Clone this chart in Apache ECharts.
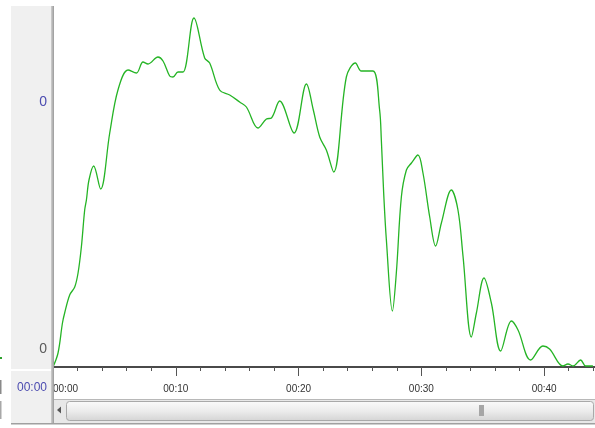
<!DOCTYPE html>
<html>
<head>
<meta charset="utf-8">
<script src="https://cdn.jsdelivr.net/npm/echarts@6/dist/echarts.min.js"></script>
<style>
html,body{margin:0;padding:0;background:#fff;}
#chart{width:595px;height:428px;}
</style>
</head>
<body>
<div id="chart"></div>
<script>
// time in seconds
var timeSec = [0,0.41,0.77,0.95,1.36,1.77,2.04,2.31,2.58,2.72,2.93,3.31,3.88,4.62,5.29,6.11,6.79,7.33,7.74,8.55,8.96,9.50,9.77,10.18,10.59,11.48,12.35,12.76,13.57,14.39,15.2,15.75,16.69,17.38,17.79,18.46,19.63,20.64,21.2,21.72,22.26,22.86,23.89,24.63,25.11,26.06,26.6,26.74,26.93,27.15,27.64,27.96,28.37,28.78,29.19,29.72,30.13,30.68,31.16,31.63,32.44,32.98,33.39,34.07,34.48,35.1,35.7,36.46,37.33,37.87,38.9,39.9,40.44,41.53,41.94,42.35,42.97,43.38,43.97];
// signal level
var level = [0,14,44,54,72,80,94,120,157,167,187,201,178,234,277,297,294,305,303,310,306,291,290,295,295,349,309,304,277,272,265,260,239,248,249,266,234,283,257,230,217,195,290,304,296,296,257,227,174,127,56,94,170,197,204,212,194,150,121,144,177,157,111,30,54,89,64,16,46,37,7,21,18,1,3,1,7,1,1];
var xTickValues = [0,10,20,30,40];
var xTickLabels = ['00:00','00:10','00:20','00:30','00:40'];
var yTickValues = [18.3,265.3];
var yTickLabels = ['0','0'];

var seriesData = timeSec.map(function(t,i){return [t, level[i]];});
var narrow = "'Liberation Sans Narrow','Liberation Sans',Arial,sans-serif";

var chart = echarts.init(document.getElementById('chart'), null, {renderer:'canvas'});
chart.setOption({
  animation:false,
  backgroundColor:'#ffffff',
  grid:{left:53,right:0,top:0,bottom:61,containLabel:false},
  xAxis:{
    type:'value',min:0,max:44.14,interval:10,
    axisLine:{show:true,lineStyle:{color:'#4a4a4a',width:2}},
    axisTick:{show:true,length:9,lineStyle:{color:'#555',width:1}},
    minorTick:{show:true,splitNumber:5,length:4,lineStyle:{color:'#555',width:1}},
    splitLine:{show:false},
    axisLabel:{
      margin:17,fontSize:10,fontFamily:narrow,color:'#333',alignMinLabel:'left',showMaxLabel:false,
      formatter:function(v){var i=xTickValues.indexOf(Math.round(v));return i>=0?xTickLabels[i]:'';}
    }
  },
  yAxis:{
    type:'value',min:0,max:367,
    axisLine:{show:false},axisTick:{show:false},splitLine:{show:false},
    axisLabel:{
      customValues:yTickValues,margin:6,fontFamily:narrow,fontSize:14,
      formatter:function(v){
        var i=-1;for(var k=0;k<yTickValues.length;k++){if(Math.abs(yTickValues[k]-v)<0.01)i=k;}
        if(i<0)return '';
        return (i===1?'{b|':'{g|')+yTickLabels[i]+'}';
      },
      rich:{
        b:{color:'#4b4bb0',fontSize:14,fontFamily:narrow},
        g:{color:'#5a5a5a',fontSize:14,fontFamily:narrow}
      }
    }
  },
  series:[{
    type:'line',data:seriesData,showSymbol:false,smooth:0.35,
    lineStyle:{color:'#25b425',width:1.3},z:3
  }],
  graphic:[
    {type:'rect',z:-1,shape:{x:11,y:6,width:41,height:417},style:{fill:'#f0f0f0'}},
    {type:'rect',z:-1,shape:{x:11,y:369,width:40,height:2},style:{fill:'#ffffff'}},
    {type:'rect',z:10,shape:{x:51,y:6,width:3,height:417},style:{fill:new echarts.graphic.LinearGradient(0,0,1,0,[{offset:0,color:'#d0d0d0'},{offset:1,color:'#9a9a9a'}])}},
    {type:'text',z:10,style:{x:47,y:388,text:'00:00',align:'right',verticalAlign:'middle',fill:'#4b4bb0',font:'12px '+narrow}},
    {type:'rect',z:5,shape:{x:54,y:399,width:541,height:24},style:{fill:'#e8e8e8'}},
    {type:'rect',z:6,shape:{x:54,y:399,width:541,height:1},style:{fill:'#b8b8b8'}},
    {type:'polygon',z:7,shape:{points:[[57,410],[61,406.5],[61,413.5]]},style:{fill:'#555'}},
    {type:'rect',z:7,shape:{x:66.5,y:401.5,width:527,height:19,r:3},style:{fill:new echarts.graphic.LinearGradient(0,0,0,1,[{offset:0,color:'#fbfbfb'},{offset:0.5,color:'#ececec'},{offset:1,color:'#d4d4d4'}]),stroke:'#a9a9a9',lineWidth:1}},
    {type:'rect',z:8,shape:{x:479,y:405,width:5,height:11},style:{fill:'#a6a6a6'}},
    {type:'rect',z:9,shape:{x:11,y:423,width:584,height:1.5},style:{fill:'#a0a0a0'}},
    {type:'rect',z:9,shape:{x:0,y:357,width:2,height:2},style:{fill:'#2ca02c'}},
    {type:'rect',z:9,shape:{x:0,y:380,width:1.5,height:14},style:{fill:'#8a8a8a'}},
    {type:'rect',z:9,shape:{x:0,y:401,width:1.5,height:18},style:{fill:'#a8a8a8'}}
  ]
});
</script>
</body>
</html>
